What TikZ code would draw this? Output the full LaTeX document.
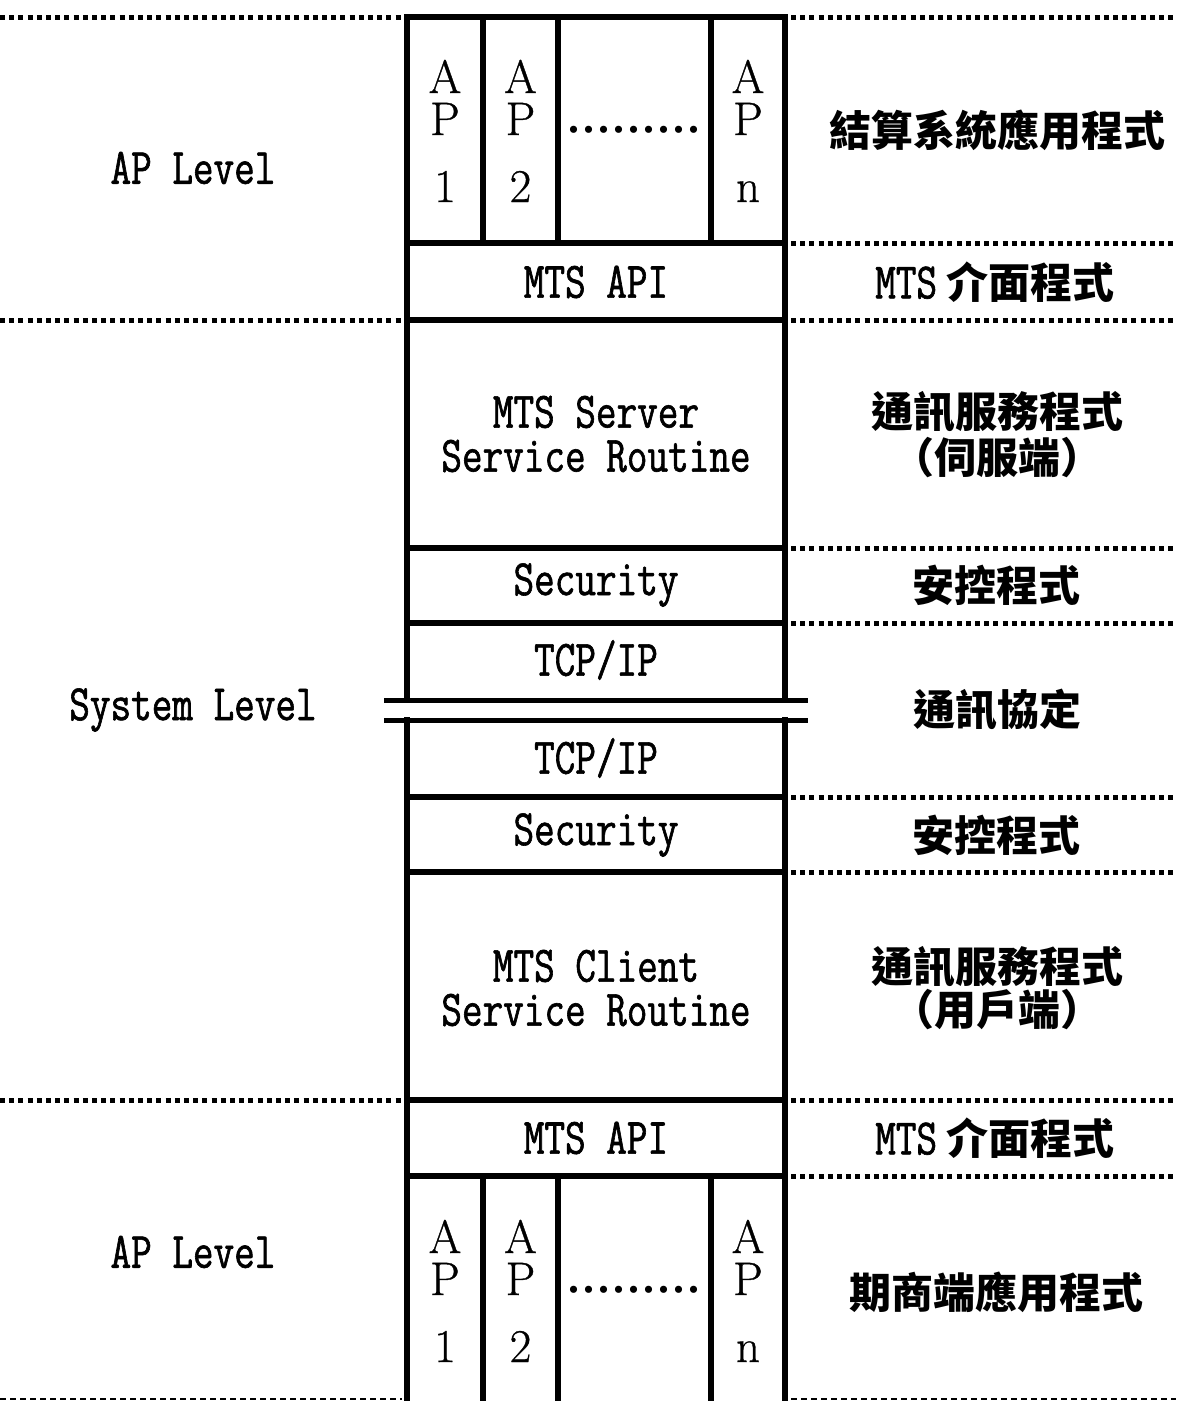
\documentclass[tikz,border=0pt]{standalone}
\usepackage{fontspec}
\newfontfamily\lat[FakeStretch=0.785,FakeBold=1.2]{Latin Modern Mono}
\newfontfamily\apfont[FakeBold=0.8]{Latin Modern Roman}
\newfontfamily\dotfont{Liberation Serif}
\newfontfamily\cjk{Noto Sans CJK TC}
\tikzset{
  box/.style={line width=5.5pt, line cap=rect},
  brk/.style={line width=5pt},
  dots/.style={line width=5pt, dash pattern=on 5pt off 4.2pt},
  thin/.style={line width=2pt, dash pattern=on 6pt off 4pt},
  lbl/.style={inner sep=0pt, font=\lat\fontsize{51}{44}\selectfont},
  zh/.style={inner sep=0pt, font=\cjk\bfseries\fontsize{42}{46}\selectfont},
  apl/.style={inner sep=0pt, anchor=base, font=\apfont\fontsize{47}{40}\selectfont},
  dotl/.style={inner sep=0pt, anchor=base, font=\dotfont\fontsize{60}{60}\selectfont},
}
\begin{document}
\begin{tikzpicture}[x=1pt,y=-1pt]
\useasboundingbox (0,0) rectangle (1176,1401);
% upper stack
\draw[box] (407,17) -- (785,17);
\draw[box] (407,17) -- (407,700);
\draw[box] (785,17) -- (785,700);
\foreach \y in {243,320,548,623} \draw[box] (407,\y) -- (785,\y);
\foreach \x in {483,558,711} \draw[box] (\x,17) -- (\x,243);
% break
\draw[brk] (384,700) -- (808,700);
\draw[brk] (384,720) -- (808,720);
% lower stack
\draw[box] (407,720) -- (407,1405);
\draw[box] (785,720) -- (785,1405);
\foreach \y in {797,872,1100,1176} \draw[box] (407,\y) -- (785,\y);
\foreach \x in {483,558,711} \draw[box] (\x,1176) -- (\x,1405);
% dotted separators
\foreach \y in {17,320,1100} \draw[dots] (0,\y) -- (402,\y);
\foreach \y in {17,243,320,548,623,797,872,1100,1176} \draw[dots] (791,\y) -- (1176,\y);
\draw[thin] (0,1399) -- (402,1399);
\draw[thin] (791,1399) -- (1176,1399);
% left labels
\node[lbl] (apl1) at (193,168) {AP Level};
\node[lbl] (sysl) at (193,710) {System Level};
\node[lbl] (apl2) at (193,1252) {AP Level};
% AP columns
\foreach \c/\x/\d in {a/445/1,b/520.5/2,n/748/n}{
  \node[apl] (ta\c) at (\x,93) {A};
  \node[apl] (tp\c) at (\x,135) {P};
  \node[apl] (td\c) at (\x,202) {\d};
  \node[apl] (ba\c) at (\x,1253) {A};
  \node[apl] (bp\c) at (\x,1295) {P};
  \node[apl] (bd\c) at (\x,1362) {\d};
}
\node[dotl] (tdots) at (634,132) {.........};
\node[dotl] (bdots) at (634,1292) {.........};
% box labels
\node[lbl] (api1) at (596,282) {MTS API};
\node[lbl] (srva) at (596,412) {MTS Server};
\node[lbl] (srvb) at (596,456) {Service Routine};
\node[lbl] (sec1) at (596,585) {Security};
\node[lbl] (tcp1) at (596,660) {TCP/IP};
\node[lbl] (tcp2) at (596,758) {TCP/IP};
\node[lbl] (sec2) at (596,835) {Security};
\node[lbl] (clia) at (596,966) {MTS Client};
\node[lbl] (clib) at (596,1010) {Service Routine};
\node[lbl] (api2) at (596,1138) {MTS API};
% right labels
\node[zh] (r1) at (997,130) {結算系統應用程式};
\node[zh] (r2) at (995,282) {{\lat\mdseries\fontsize{51}{44}\selectfont MTS} 介面程式};
\node[zh] (r3a) at (997,412) {通訊服務程式};
\node[zh] (r3b) at (997,458) {（伺服端）};
\node[zh] (r4) at (996,585) {安控程式};
\node[zh] (r5) at (997,710) {通訊協定};
\node[zh] (r6) at (996,835) {安控程式};
\node[zh] (r7a) at (997,967) {通訊服務程式};
\node[zh] (r7b) at (997,1010) {（用戶端）};
\node[zh] (r8) at (995,1138) {{\lat\mdseries\fontsize{51}{44}\selectfont MTS} 介面程式};
\node[zh] (r9) at (996,1292) {期商端應用程式};
\end{tikzpicture}
\end{document}
